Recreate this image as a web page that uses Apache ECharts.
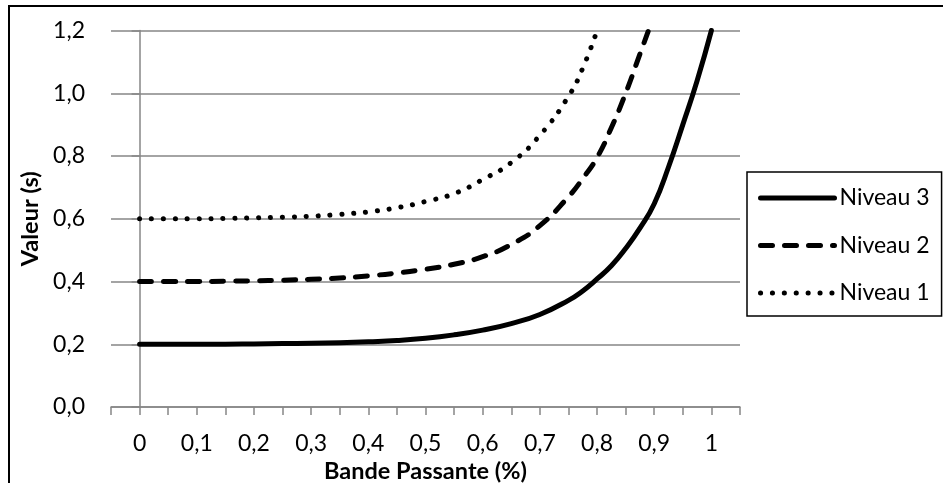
<!DOCTYPE html>
<html>
<head>
<meta charset="utf-8">
<script src="https://cdn.jsdelivr.net/npm/echarts@6/dist/echarts.min.js"></script>
<style>
  html, body { margin: 0; padding: 0; background: #fff; }
  #chart { width: 943px; height: 483px; }
</style>
</head>
<body>
<div id="chart"></div>
<script>
// values, x = bandwidth share, y = seconds
const bandwidth = [0, 0.05, 0.1, 0.15, 0.2, 0.25, 0.3, 0.35, 0.4, 0.45, 0.5, 0.55, 0.6, 0.65, 0.7, 0.75, 0.775, 0.8, 0.825, 0.85, 0.875, 0.9, 0.925, 0.95, 0.975, 1];
const niveau3 = [0.2, 0.2, 0.2, 0.2, 0.201, 0.202, 0.203, 0.205, 0.208, 0.212, 0.219, 0.23, 0.245, 0.266, 0.295, 0.34, 0.37, 0.408, 0.45, 0.505, 0.57, 0.648, 0.765, 0.9, 1.04, 1.2];
const niveau2 = [0.4, 0.4, 0.4, 0.401, 0.402, 0.404, 0.407, 0.411, 0.418, 0.427, 0.439, 0.455, 0.479, 0.518, 0.578, 0.67, 0.728, 0.795, 0.89, 1.0, 1.125, 1.25];
const niveau1 = [0.6, 0.6, 0.6, 0.601, 0.603, 0.605, 0.608, 0.614, 0.622, 0.635, 0.655, 0.68, 0.725, 0.779, 0.866, 0.99, 1.08, 1.2];
const seriesNames = ['Niveau 3', 'Niveau 2', 'Niveau 1'];

const FONT = 'Lato';

function pairs(ys) {
    return ys.map((y, i) => [bandwidth[i], y]);
}

function commaLabel(v, digits) {
    return v.toFixed(digits).replace('.', ',');
}

const chart = echarts.init(document.getElementById('chart'), null, {renderer: 'canvas'});

const baseLine = {
    type: 'line',
    symbol: 'none',
    smooth: 0.5,
    clip: true,
    z: 3
};

chart.setOption({
    animation: false,
    backgroundColor: '#fff',
    textStyle: {fontFamily: FONT},
    grid: {left: 111, right: 203, top: 30.5, bottom: 76, outerBoundsMode: 'none', containLabel: false},
    graphic: [{
        type: 'rect',
        shape: {x: 9, y: 6, width: 1200, height: 1000},
        style: {fill: 'none', stroke: '#000', lineWidth: 2},
        silent: true
    }],
    legend: {
        orient: 'vertical',
        left: 747,
        top: 172,
        itemWidth: 74,
        itemHeight: 14,
        itemGap: 21.5,
        padding: [13, 12, 10, 11],
        borderColor: '#000',
        borderWidth: 1.5,
        borderRadius: 0,
        data: seriesNames,
        itemStyle: {opacity: 0},
        lineStyle: {width: 5, cap: 'round', join: 'round'},
        textStyle: {fontFamily: FONT, fontSize: 23, lineHeight: 26, color: '#000'}
    },
    xAxis: {
        type: 'value',
        min: -0.05,
        max: 1.05,
        interval: 0.05,
        name: 'Bande Passante (%)',
        nameLocation: 'middle',
        nameGap: 46,
        nameTextStyle: {fontFamily: FONT, fontSize: 23.5, fontWeight: 'bold', color: '#000'},
        axisLine: {show: true, lineStyle: {color: '#868686', width: 1.5}},
        axisTick: {show: true, length: 8, lineStyle: {color: '#868686', width: 1.5}},
        splitLine: {show: false},
        axisLabel: {
            margin: 25,
            fontFamily: FONT,
            fontSize: 23,
            color: '#000',
            showMinLabel: true,
            showMaxLabel: true,
            formatter: function (v) {
                const r = Math.round(v * 100);
                if (r < 0 || r > 100 || r % 10 !== 0) return '';
                if (r === 0) return '0';
                if (r === 100) return '1';
                return commaLabel(r / 100, 1);
            }
        }
    },
    yAxis: {
        type: 'value',
        min: 0,
        max: 1.2,
        interval: 0.2,
        name: 'Valeur (s)',
        nameLocation: 'middle',
        nameGap: 67,
        nameTextStyle: {fontFamily: FONT, fontSize: 23.5, fontWeight: 'bold', color: '#000'},
        axisLine: {show: true, lineStyle: {color: '#868686', width: 1.5}},
        axisTick: {show: true, length: 8, lineStyle: {color: '#868686', width: 1.5}},
        splitLine: {show: true, lineStyle: {color: '#868686', width: 1.5}},
        axisLabel: {
            margin: 26,
            fontFamily: FONT,
            fontSize: 23,
            color: '#000',
            formatter: v => commaLabel(v, 1)
        }
    },
    series: [
        Object.assign({}, baseLine, {
            name: seriesNames[0],
            data: pairs(niveau3),
            lineStyle: {color: '#000', width: 5, type: 'solid', cap: 'round', join: 'round'},
            itemStyle: {color: '#000'}
        }),
        Object.assign({}, baseLine, {
            name: seriesNames[1],
            data: pairs(niveau2),
            lineStyle: {color: '#000', width: 5, type: [12, 12], cap: 'round', join: 'round'},
            itemStyle: {color: '#000'}
        }),
        Object.assign({}, baseLine, {
            name: seriesNames[2],
            data: pairs(niveau1),
            lineStyle: {color: '#000', width: 5, type: [0.1, 11.8], cap: 'round', join: 'round'},
            itemStyle: {color: '#000'}
        })
    ]
});
</script>
</body>
</html>
